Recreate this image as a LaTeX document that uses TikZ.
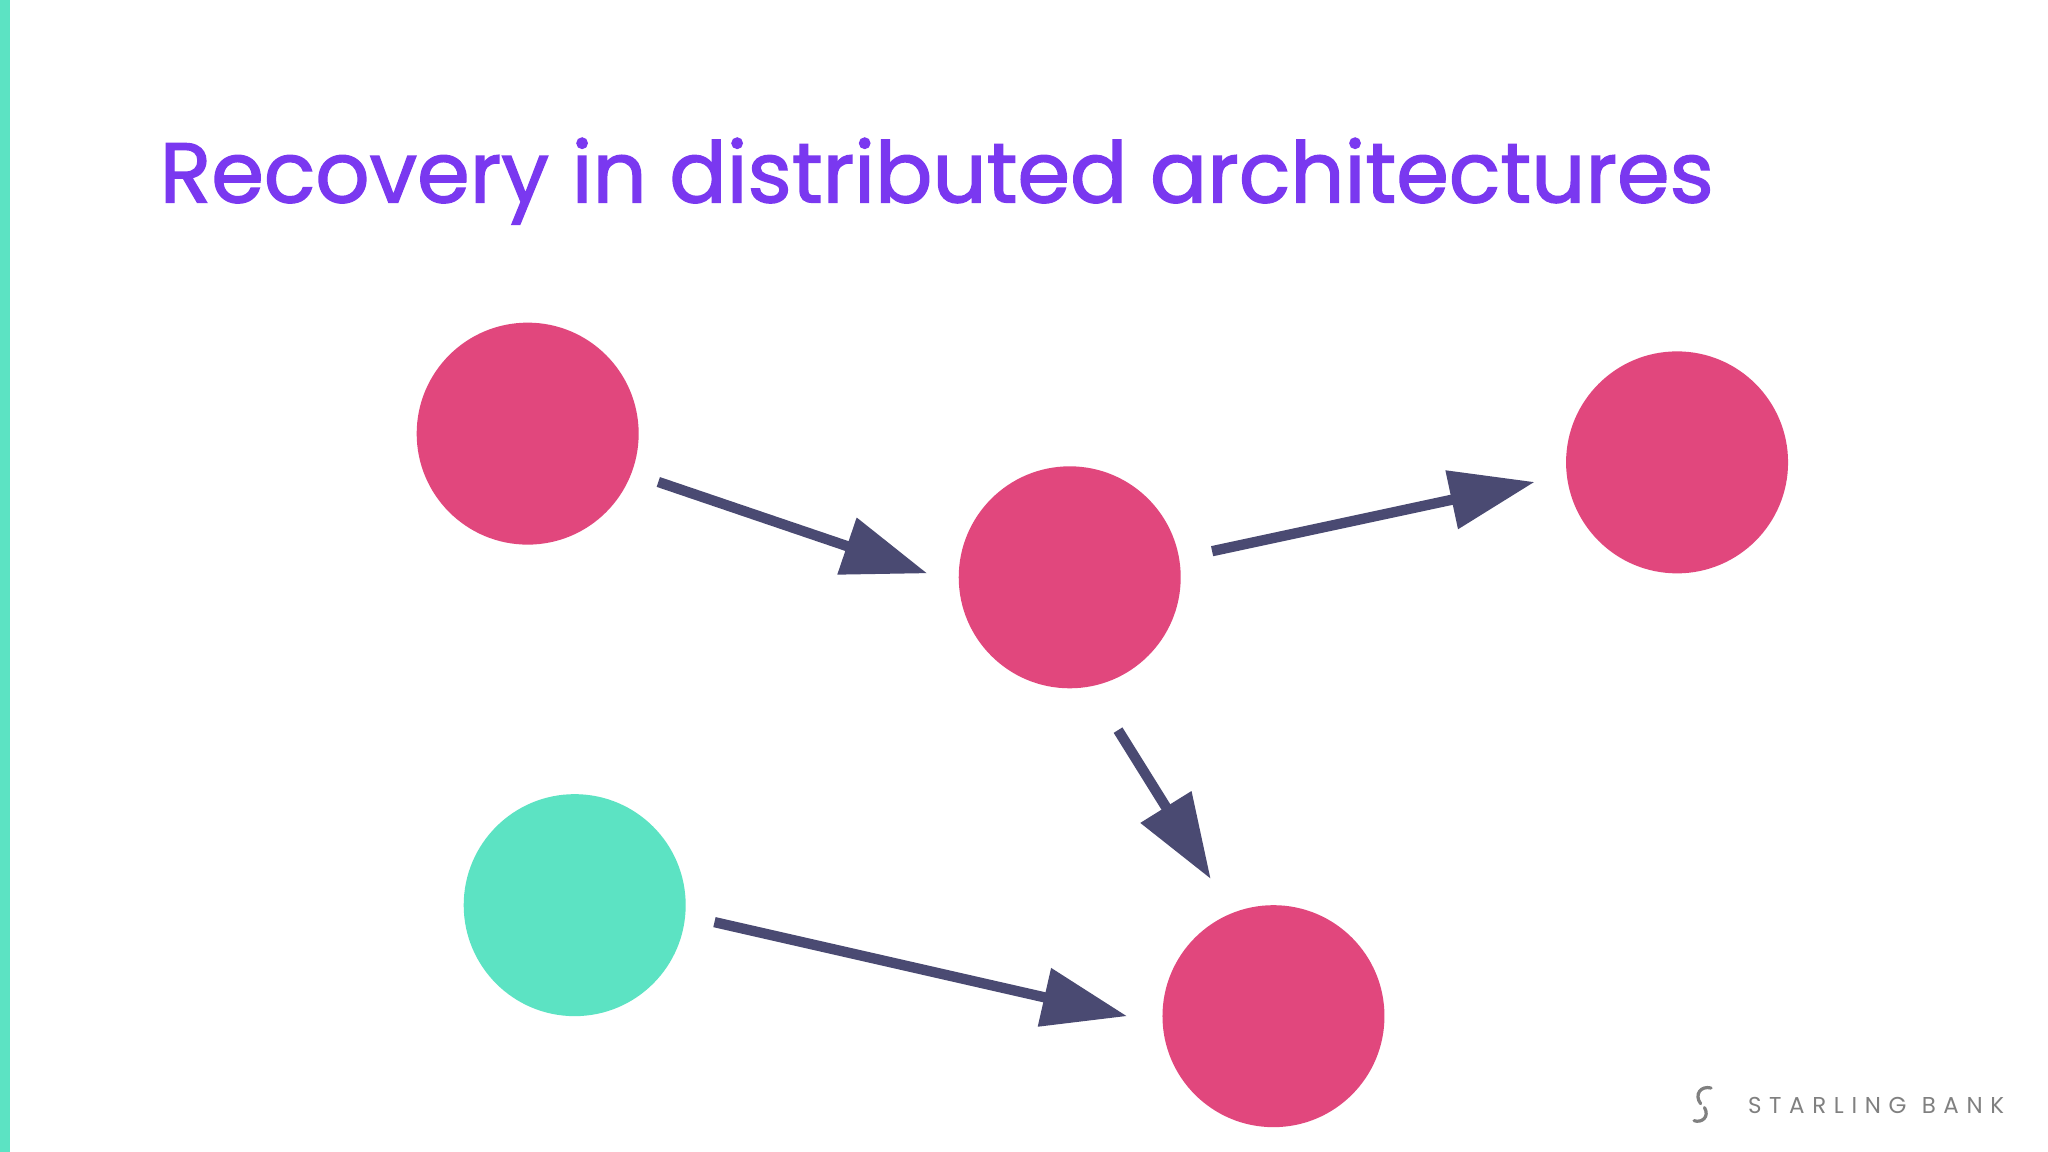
\documentclass[tikz,border=0pt]{standalone}
\usepackage{fontspec}
\setmainfont{Poppins}
\newfontfamily\titlefont[FakeBold=1.6]{Poppins}
\usetikzlibrary{arrows.meta}
\definecolor{pinkc}{HTML}{E1477D}
\definecolor{tealc}{HTML}{5CE3C3}
\definecolor{arrc}{HTML}{4A4A72}
\definecolor{titlec}{HTML}{7A38F0}
\definecolor{logoc}{HTML}{808080}
\begin{document}
\begin{tikzpicture}[x=0.02cm,y=-0.02cm,
  ball/.style={circle,fill=pinkc,minimum size=3.4cm,inner sep=0pt},
  conn/.style={draw=arrc,line width=4.5pt,-{Triangle[length=37pt,width=25pt]}}]
\useasboundingbox (0,0) rectangle (1568,882);
\fill[white] (0,0) rectangle (1568,882);
\fill[tealc] (0,0) rectangle (8,882);
\node[anchor=base west,inner sep=0pt,text=titlec] (title) at (122,155)
  {\resizebox{23.8cm}{!}{\titlefont\fontsize{36}{40}\selectfont Recovery in distributed architectures}};
\node[ball] (a) at (404,332) {};
\node[ball] (b) at (819,442) {};
\node[ball] (c) at (1284,354) {};
\node[ball,fill=tealc] (d) at (440,693) {};
\node[ball] (e) at (975,778) {};
\coordinate (a1) at (504,369); \coordinate (a2) at (710,439);
\coordinate (b1) at (928,422); \coordinate (b2) at (1175,369);
\coordinate (c1) at (856,559); \coordinate (c2) at (927,673);
\coordinate (d1) at (547,706); \coordinate (d2) at (863,778);
\draw[conn] (a1) -- (a2);
\draw[conn] (b1) -- (b2);
\draw[conn] (c1) -- (c2);
\draw[conn] (d1) -- (d2);
\node[anchor=west,inner sep=0pt,text=logoc] (logo) at (1338,846)
  {\fontsize{10}{12}\selectfont S\,\,T\,\,A\,\,R\,\,L\,\,I\,\,N\,\,G\,\,\,\,B\,\,A\,\,N\,\,K};
\draw[logoc,line width=1.4pt,line cap=round] (1310,833) .. controls (1302,831) and (1297,838) .. (1302,845);
\draw[logoc,line width=1.4pt,line cap=round] (1305,848) .. controls (1309,855) and (1303,860) .. (1297,858);
\end{tikzpicture}
\end{document}
